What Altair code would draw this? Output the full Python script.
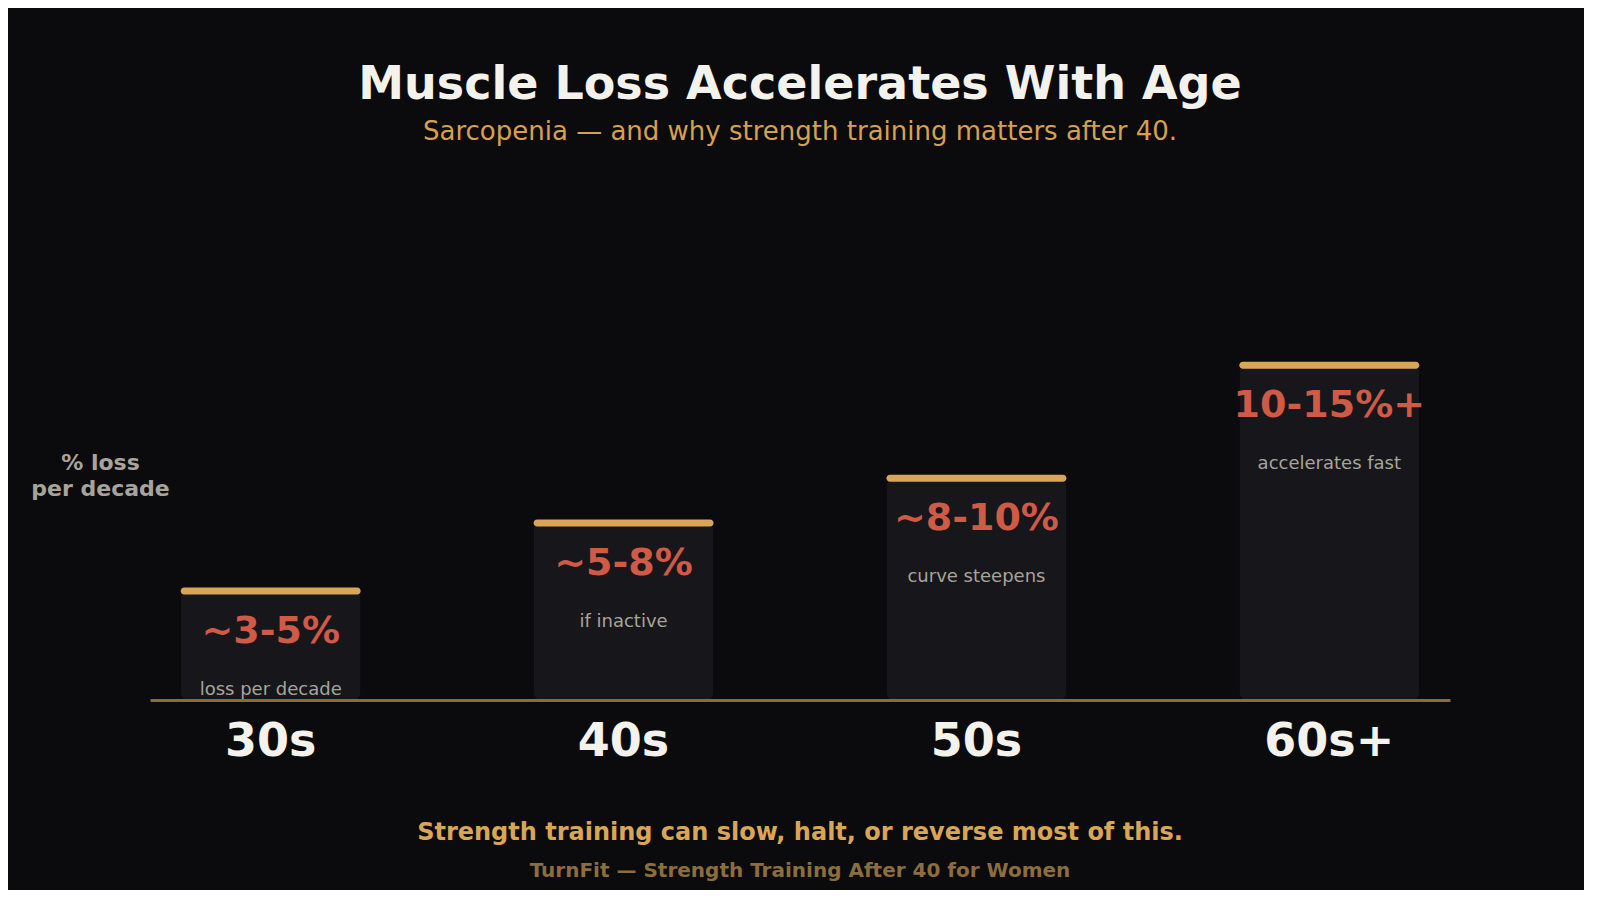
import altair as alt
import pandas as pd

# values (bar tops; 1 unit ~ 27 px)
decades = ["30s", "40s", "50s", "60s+"]
bar_height = [4.0, 6.5, 8.15, 12.3]
loss_label = ["~3-5%", "~5-8%", "~8-10%", "10-15%+"]
note = ["loss per decade", "if inactive", "curve steepens", "accelerates fast"]

takeaway = "Strength training can slow, halt, or reverse most of this."
credit = "TurnFit \u2014 Strength Training After 40 for Women"

BG = "#0b0b0d"
BAR = "#17161b"
GOLD = "#d9a656"
RULE = "#8b6b3b"
RED = "#cf5a46"
GREY = "#a8a49d"
WHITE = "#f4f2ed"
FONT = "DejaVu Sans"

source = pd.DataFrame(
    {"decade": decades, "loss": bar_height, "label": loss_label, "note": note}
)

x = alt.X(
    "decade:N",
    sort=decades,
    scale=alt.Scale(paddingInner=0.49, paddingOuter=0.087),
    axis=alt.Axis(
        title=None,
        labelAngle=0,
        labelFontSize=46,
        labelFontWeight="bold",
        labelColor=WHITE,
        labelFont=FONT,
        labelBaseline="middle",
        labelPadding=41,
        ticks=False,
        tickSize=0,
        domainColor=RULE,
        domainWidth=3,
        grid=False,
        zindex=1,
    ),
)
y = alt.Y(
    "loss:Q",
    scale=alt.Scale(domain=[0, 18], nice=False),
    axis=alt.Axis(
        title=["% loss", "per decade"],
        titleAngle=0,
        titleX=-50,
        titleY=252,
        titleAlign="center",
        titleBaseline="middle",
        titleLineHeight=26,
        titleFontSize=22,
        titleFontWeight="bold",
        titleColor=GREY,
        titleFont=FONT,
        labels=False,
        ticks=False,
        domain=False,
        grid=False,
    ),
)

base = alt.Chart(source).encode(x=x, y=y)

bars = base.mark_bar(color=BAR, cornerRadius=8)
caps = base.mark_tick(color=GOLD, thickness=7, size=180, cornerRadius=3.5, opacity=1)
labels = base.mark_text(
    color=RED, fontSize=38, fontWeight="bold", font=FONT, baseline="middle", dy=41
).encode(text="label:N")
notes = base.mark_text(
    color=GREY, fontSize=18, font=FONT, baseline="middle", dy=99
).encode(text="note:N")

bottom = (
    alt.Chart(pd.DataFrame({"t": [takeaway]}))
    .mark_text(color=GOLD, fontSize=24, fontWeight="bold", font=FONT, baseline="middle")
    .encode(x=alt.value(650), y=alt.value(623), text="t:N")
)
footer = (
    alt.Chart(pd.DataFrame({"t": [credit]}))
    .mark_text(color="#8c6d3e", fontSize=20, fontWeight="bold", font=FONT, baseline="middle")
    .encode(x=alt.value(650), y=alt.value(661), text="t:N")
)

chart = (
    alt.layer(bars, caps, labels, notes, bottom, footer)
    .properties(
        width=1300,
        height=490,
        autosize=alt.AutoSizeParams(type="none"),
        padding={"left": 142, "top": 202, "right": 134, "bottom": 190},
        background=BG,
        title=alt.TitleParams(
            "Muscle Loss Accelerates With Age",
            subtitle="Sarcopenia \u2014 and why strength training matters after 40.",
            anchor="middle",
            frame="group",
            font=FONT,
            fontSize=46,
            fontWeight="bold",
            color=WHITE,
            subtitleFont=FONT,
            subtitleFontSize=26,
            subtitleColor="#d6a14f",
            subtitlePadding=10,
            offset=64,
        ),
    )
    .configure_view(stroke=None)
)

chart.save("out.html", embed_options={"renderer": "svg", "actions": False})
